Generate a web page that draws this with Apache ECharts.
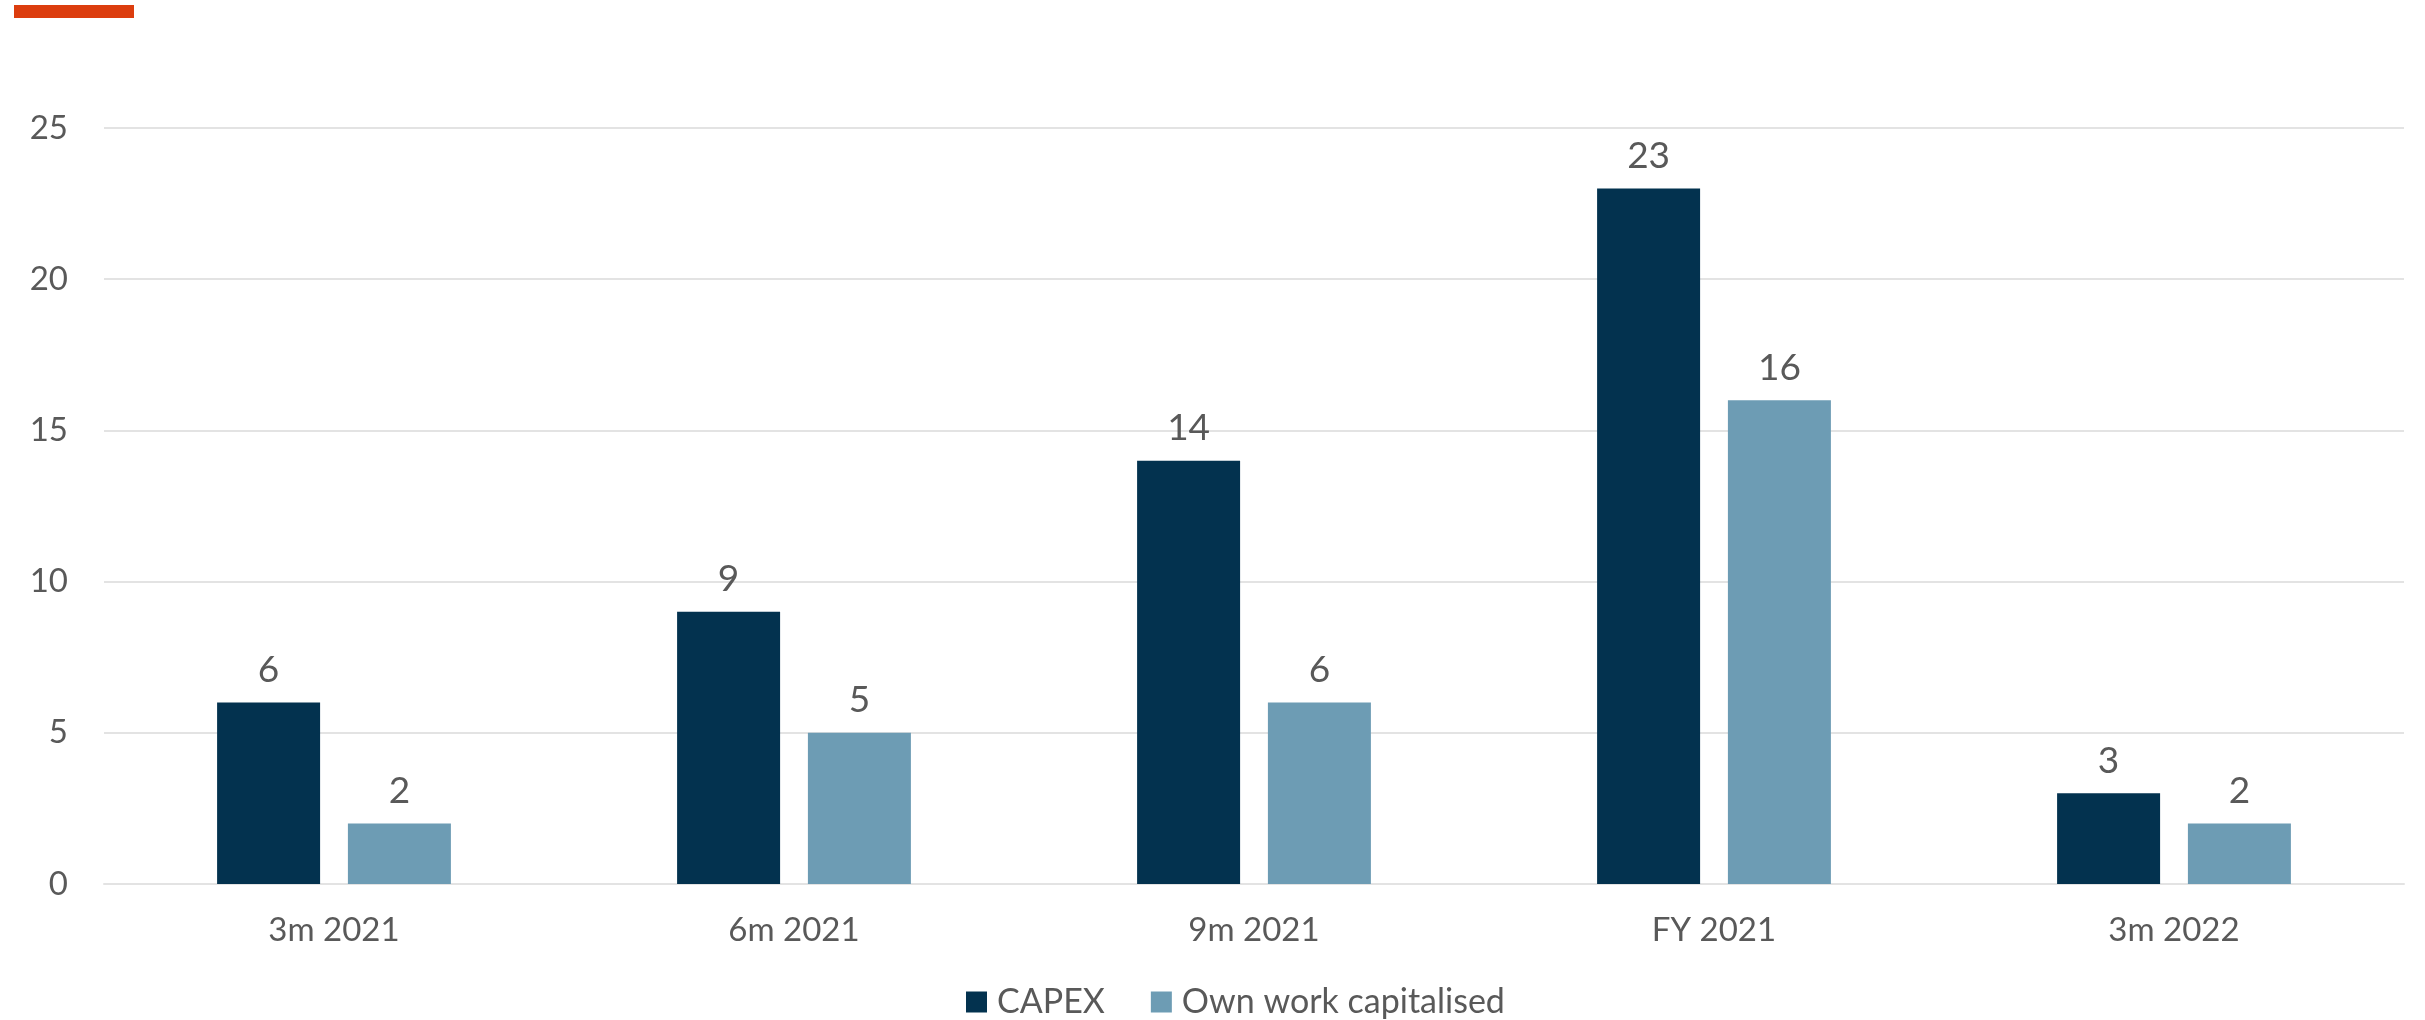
<!DOCTYPE html>
<html>
<head>
<meta charset="utf-8">
<script src="https://cdn.jsdelivr.net/npm/echarts@6/dist/echarts.min.js"></script>
<style>
html, body { margin: 0; padding: 0; background: #fff; }
#myChart { width: 2425px; height: 1020px; }
</style>
</head>
<body>
<div id="myChart"></div>
<script>
const categories = ['3m 2021', '6m 2021', '9m 2021', 'FY 2021', '3m 2022']
const capex = [6, 9, 14, 23, 3]
const ownWork = [2, 5, 6, 16, 2]
const yTicks = { min: 0, max: 25, interval: 5 }

const textColor = '#595959'
const fontFamily = 'Lato, "Open Sans", sans-serif'

const myChart = echarts.init(document.getElementById('myChart'))
myChart.setOption({
  animation: false,
  textStyle: { fontFamily: fontFamily },
  graphic: [
    {
      // red accent strip, top left
      type: 'rect',
      shape: { x: 14, y: 5, width: 120, height: 13 },
      style: { fill: '#dc3d0e' }
    }
  ],
  grid: {
    left: 104,
    right: 21,
    top: 128,
    bottom: 136
  },
  legend: {
    left: 966,
    top: 985,
    padding: 0,
    itemWidth: 21,
    itemHeight: 21,
    itemGap: 46,
    icon: 'rect',
    textStyle: { color: textColor, fontSize: 34, fontFamily: fontFamily, padding: [0, 0, 0, 5] },
    data: ['CAPEX', 'Own work capitalised']
  },
  xAxis: {
    type: 'category',
    data: categories,
    axisLine: { show: true, lineStyle: { color: '#e3e3e3', width: 2 } },
    axisTick: { show: false },
    axisLabel: { color: textColor, fontSize: 33, margin: 30 }
  },
  yAxis: {
    type: 'value',
    min: yTicks.min,
    max: yTicks.max,
    interval: yTicks.interval,
    axisLine: { show: false },
    axisTick: { show: false },
    splitLine: { lineStyle: { color: '#e3e3e3', width: 2 } },
    axisLabel: { color: textColor, fontSize: 33, margin: 36 }
  },
  series: [
    {
      name: 'CAPEX',
      type: 'bar',
      data: capex,
      barWidth: 103,
      barGap: '27%',
      itemStyle: { color: '#03324f' },
      label: { show: true, position: 'top', distance: 14, color: textColor, fontSize: 37 }
    },
    {
      name: 'Own work capitalised',
      type: 'bar',
      data: ownWork,
      barWidth: 103,
      barGap: '27%',
      itemStyle: { color: '#6d9cb4' },
      label: { show: true, position: 'top', distance: 14, color: textColor, fontSize: 37 }
    }
  ]
})
</script>
</body>
</html>
